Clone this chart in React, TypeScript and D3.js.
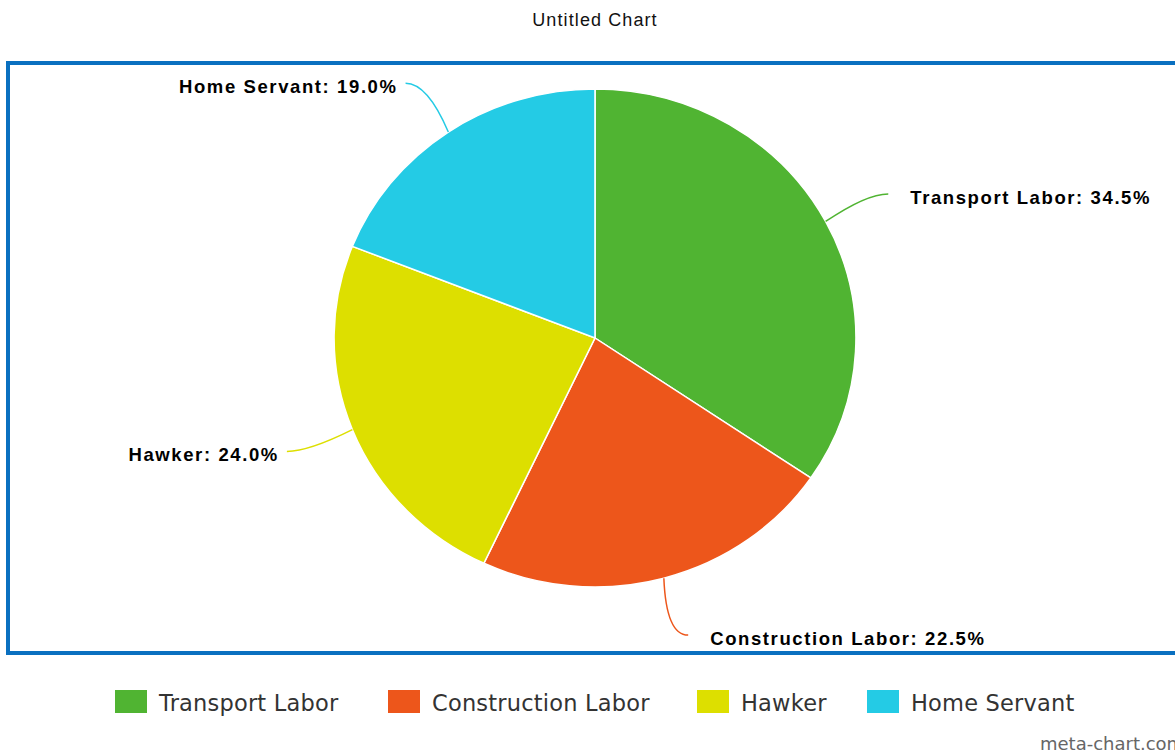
import React from "react";
import * as d3 from "d3";

const categories = ["Transport Labor", "Construction Labor", "Hawker", "Home Servant"];
const values = [34.5, 22.5, 24.0, 19.0];
const colors = ["#50B432", "#ED561B", "#DDDF00", "#24CBE5"];
const legendX = [115, 388, 697, 867];
const title = "Untitled Chart";

const W = 1175;
const H = 754;
const cx = 595;
const cy = 338;
const ry = 249;
const sx = 1.048;
const labelR = 308;

export default function App() {
  const pie = d3.pie<number>().sort(null).value((d) => d)(values);
  const arc = d3.arc<d3.PieArcDatum<number>>().innerRadius(0).outerRadius(ry);
  const total = d3.sum(values);

  const labels = pie.map((p, i) => {
    const mid = (p.startAngle + p.endAngle) / 2;
    const s = Math.sin(mid);
    const c = Math.cos(mid);
    const sign = s >= 0 ? 1 : -1;
    const start = [cx + s * ry * sx, cy - c * ry];
    const end = [cx + s * labelR * sx + sign * 8, cy - c * labelR];
    const ctrl = [end[0] - sign * 22, end[1]];
    return { i, sign, start, end, ctrl };
  });

  return (
    <svg width={W} height={H} style={{ position: "absolute", left: 0, top: 0 }}>
      <rect x={0} y={0} width={W} height={H} fill="#fff" />
      <text
        x={cx}
        y={26}
        textAnchor="middle"
        fontFamily="Liberation Sans, Arial, sans-serif"
        fontSize={18}
        letterSpacing={1.1}
        fill="#111"
      >
        {title}
      </text>
      <rect x={8} y={63} width={W + 20} height={590} fill="none" stroke="#0a70c0" strokeWidth={4} />
      <g transform={`translate(${cx},${cy}) scale(${sx},1)`}>
        {pie.map((p, i) => (
          <path key={i} d={arc(p) || ""} fill={colors[i]} stroke="#fff" strokeWidth={1.5} />
        ))}
      </g>
      {labels.map((l) => (
        <g key={l.i}>
          <path
            d={`M${l.start[0]},${l.start[1]} Q${l.ctrl[0]},${l.ctrl[1]} ${l.end[0]},${l.end[1]}`}
            fill="none"
            stroke={colors[l.i]}
            strokeWidth={1.5}
          />
          <text
            x={l.end[0] + l.sign * (l.sign > 0 ? 22 : 8)}
            y={l.end[1] + 10}
            textAnchor={l.sign > 0 ? "start" : "end"}
            fontFamily="Liberation Sans, Arial, sans-serif"
            fontWeight="bold"
            fontSize={18.5}
            letterSpacing={1.6}
            fill="#000"
          >
            {`${categories[l.i]}: ${((values[l.i] / total) * 100).toFixed(1)}%`}
          </text>
        </g>
      ))}
      <g>
        {categories.map((c, i) => (
          <g key={i} transform={`translate(${legendX[i]},690)`}>
            <rect x={0} y={0} width={32} height={23} fill={colors[i]} />
            <text
              x={44}
              y={21}
              fontFamily="DejaVu Sans, sans-serif"
              fontSize={22.5}
              letterSpacing={0.2}
              fill="#333"
            >
              {c}
            </text>
          </g>
        ))}
      </g>
      <text x={1040} y={750} fontFamily="DejaVu Sans, sans-serif" fontSize={18} fill="#666">
        meta-chart.com
      </text>
    </svg>
  );
}
